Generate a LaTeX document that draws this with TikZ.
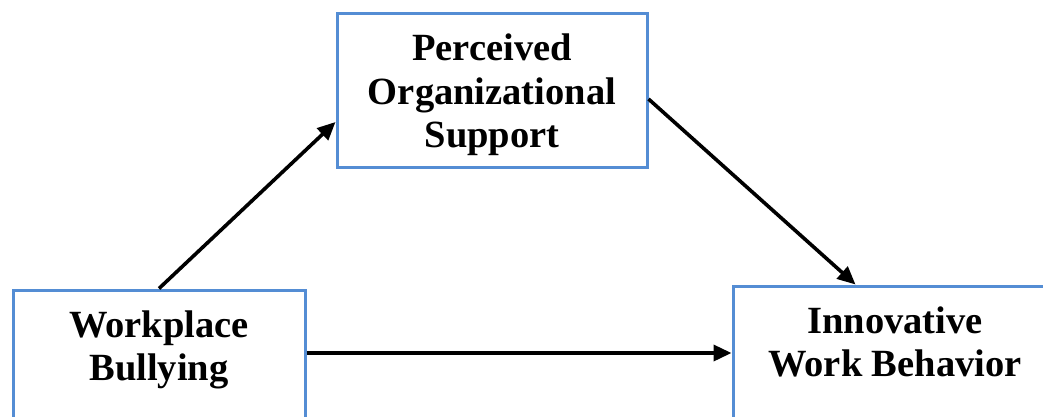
\documentclass[tikz,border=0pt]{standalone}
\usepackage{fontspec}
\setmainfont{Liberation Serif}
\usetikzlibrary{arrows.meta}
\definecolor{boxblue}{RGB}{84,141,212}
\tikzset{
  box/.style={draw=boxblue, line width=3pt, fill=white, inner sep=0pt},
  lbl/.style={align=center, font=\fontsize{38.5pt}{43.5pt}\selectfont\bfseries, inner sep=0pt},
  conn/.style={draw=black, line width=3.6pt, -{Triangle[length=18pt,width=16pt]}}
}
\begin{document}
\begin{tikzpicture}[x=1pt,y=-1pt]
\useasboundingbox (0,0) rectangle (1043,416);
\clip (0,0) rectangle (1043,416);
\fill[white] (0,0) rectangle (1043,416);
% boxes
\node[box, minimum width=310pt, minimum height=154pt] (pos) at (492,90) {};
\node[box, minimum width=292pt, minimum height=128pt] (wb) at (159,354) {};
\node[box, minimum width=320pt, minimum height=134pt] (iwb) at (893,353) {};
% texts
\node[lbl] (post) at (492,95) {Perceived\\Organizational\\Support};
\node[lbl] (wbt) at (159,350) {Workplace\\Bullying};
\node[lbl] (iwbt) at (895,342) {Innovative\\Work Behavior};
% connectors
\draw[conn] (wb.north) -- ([yshift=-32pt]pos.west);
\draw[conn] ([yshift=-9pt]pos.east) -- ([xshift=124pt]iwb.north west);
\draw[conn] ([yshift=1pt]wb.east) -- ([yshift=1pt]wb.east -| iwb.west);
\end{tikzpicture}
\end{document}
